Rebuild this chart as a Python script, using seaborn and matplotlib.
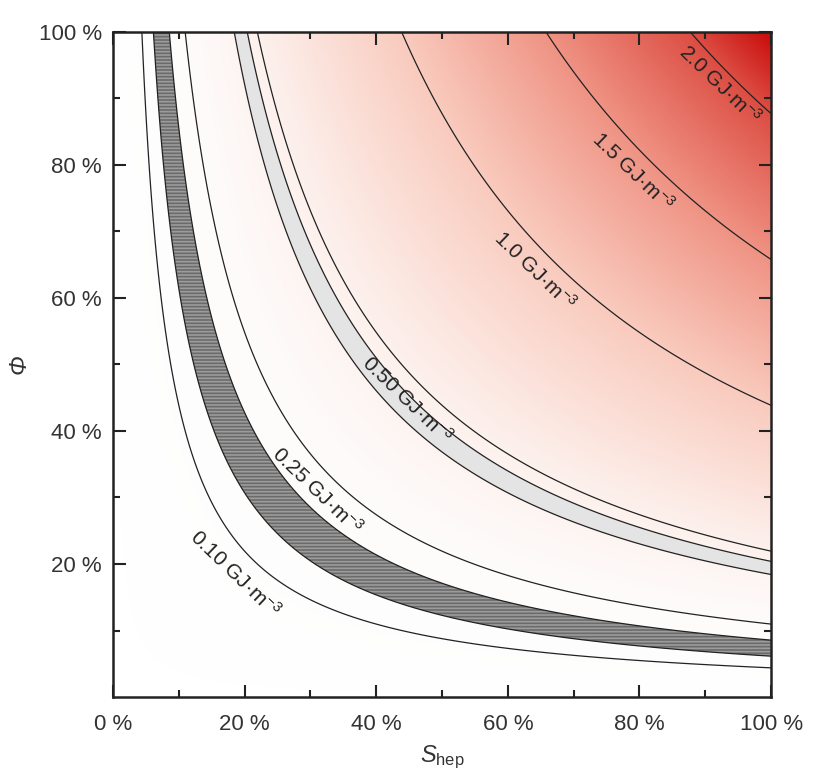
import numpy as np
import matplotlib
matplotlib.use("Agg")
import matplotlib.pyplot as plt
import seaborn as sns
from matplotlib.colors import LinearSegmentedColormap, Normalize

# energy density at S_hep = Phi = 100 % (GJ m^-3)
e_max = 2.28
levels = [0.10, 0.25, 0.50, 1.0, 1.5, 2.0]
level_labels = ["0.10", "0.25", "0.50", "1.0", "1.5", "2.0"]
dark_band = [0.14, 0.195]
light_band = [0.42, 0.465]
x_ticks = [0, 20, 40, 60, 80, 100]
x_ticklabels = ["0 %", "20 %", "40 %", "60 %", "80 %", "100 %"]
y_ticks = [20, 40, 60, 80, 100]
y_ticklabels = ["20 %", "40 %", "60 %", "80 %", "100 %"]

sns.set_theme(style="ticks")
plt.rcParams['font.family'] = ['Liberation Sans', 'DejaVu Sans']
plt.rcParams['mathtext.fontset'] = 'custom'
plt.rcParams['mathtext.rm'] = 'Liberation Sans'
plt.rcParams['mathtext.it'] = 'Liberation Sans:italic'
plt.rcParams['hatch.linewidth'] = 1.2

s = np.linspace(0.2, 100, 600)
phi = np.linspace(0.2, 100, 600)
S, P = np.meshgrid(s, phi)
E = e_max * (S / 100) * (P / 100)

cmap = LinearSegmentedColormap.from_list("wr", [
    (0.0, '#ffffff'), (0.11, '#fefcfb'), (0.22, '#fdf1ed'), (0.44, '#f9cabd'),
    (0.66, '#ef9283'), (0.88, '#dc4c42'), (1.0, '#c80a0a')])

fig = plt.figure(figsize=(8.16, 7.8), dpi=100)
ax = fig.add_axes([0.1385, 0.1064, 0.8065, 0.8526])

ax.imshow(E, origin='lower', extent=[0, 100, 0, 100], cmap=cmap,
          norm=Normalize(0, e_max), aspect='auto', interpolation='bilinear')

# shaded bands between two iso-energy curves
xs = np.linspace(0.5, 100, 800)
lo = np.clip(dark_band[0] / (e_max * xs / 100) * 100, 0, 100)
hi = np.clip(dark_band[1] / (e_max * xs / 100) * 100, 0, 100)
ax.fill_between(xs, lo, hi, facecolor='#6b6b6b', edgecolor='#9c9c9c',
                hatch='-----', linewidth=0)
lo = np.clip(light_band[0] / (e_max * xs / 100) * 100, 0, 100)
hi = np.clip(light_band[1] / (e_max * xs / 100) * 100, 0, 100)
ax.fill_between(xs, lo, hi, facecolor='#e4e4e4', linewidth=0)

ax.contour(S, P, E, levels=dark_band + light_band, colors='#222222', linewidths=0.9)
ax.contour(S, P, E, levels=levels, colors='#222222', linewidths=0.9)

# labels sit just below each line where it crosses the diagonal
for lev, lab in zip(levels, level_labels):
    d = np.sqrt(lev / e_max) * 100
    off = 20 if lev > 0.12 else 22
    if lev > 1.9:
        off = 14
    ax.annotate(lab + " GJ·m$^{\\mathregular{-3}}$", xy=(d, d),
                xytext=(-off / np.sqrt(2), -off / np.sqrt(2)), textcoords='offset pixels',
                ha='center', va='center', rotation=-44, rotation_mode='anchor',
                fontsize=15, color='#222222')

ax.set_xlim(0, 100)
ax.set_ylim(0, 100)
ax.set_xticks(x_ticks)
ax.set_xticklabels(x_ticklabels)
ax.set_yticks(y_ticks)
ax.set_yticklabels(y_ticklabels)
ax.set_xticks([10, 30, 50, 70, 90], minor=True)
ax.set_yticks([10, 30, 50, 70, 90], minor=True)
ax.tick_params(which='both', direction='in', top=True, right=True, width=1.5, color='#222222')
ax.tick_params(which='major', length=9, labelsize=16, labelcolor='#333333')
ax.tick_params(which='minor', length=5)
ax.tick_params(axis='x', pad=12)
ax.tick_params(axis='y', pad=8)
for sp in ax.spines.values():
    sp.set_linewidth(1.8)
    sp.set_color('#222222')

ax.set_xlabel(r'$\mathit{S}_{\mathregular{hep}}$', fontsize=17, color='#333333')
ax.set_ylabel('Φ', style='italic', fontsize=17, color='#333333')
ax.xaxis.set_label_coords(0.5, -0.07)
ax.yaxis.set_label_coords(-0.125, 0.5)

plt.savefig('out.png', dpi=100)
plt.close()
